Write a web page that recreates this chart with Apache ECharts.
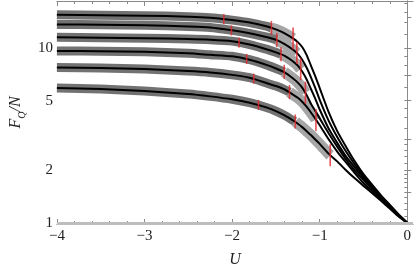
<!DOCTYPE html>
<html><head><meta charset="utf-8">
<script src="https://cdn.jsdelivr.net/npm/echarts@6/dist/echarts.min.js"></script>
<style>html,body{margin:0;padding:0;background:#fff}#c{width:415px;height:273px}</style>
</head><body><div id="c"></div>
<script>
// U grid shared by all curves
const U = [-4, -3.5, -3, -2.5, -2.25, -2, -1.8, -1.6, -1.5, -1.4, -1.3, -1.25, -1.2, -1.15, -1.1, -1.05, -1.0, -0.9, -0.8, -0.7, -0.6, -0.5, -0.4, -0.3, -0.2, -0.1, 0];
// F_Q/N curves (top to bottom)
const fq16 = [15.48, 15.39, 15.29, 15.10, 14.90, 14.43, 13.97, 13.27, 12.77, 12.13, 11.30, 10.80, 10.13, 9.14, 7.93, 6.89, 5.90, 4.33, 3.35, 2.73, 2.25, 1.90, 1.65, 1.44, 1.27, 1.12, 1.00];
const fq14 = [13.62, 13.57, 13.48, 13.27, 13.10, 12.61, 12.13, 11.52, 11.15, 10.53, 9.74, 9.26, 8.57, 7.73, 6.80, 5.90, 5.06, 3.86, 3.10, 2.56, 2.16, 1.85, 1.62, 1.42, 1.26, 1.12, 1.00];
const fq12 = [11.52, 11.45, 11.37, 11.25, 11.15, 10.94, 10.46, 9.81, 9.44, 9.02, 8.35, 7.93, 7.34, 6.63, 5.83, 5.12, 4.45, 3.48, 2.87, 2.40, 2.08, 1.81, 1.59, 1.41, 1.25, 1.11, 1.00];
const fq10 = [9.62, 9.58, 9.50, 9.32, 9.14, 8.97, 8.57, 7.98, 7.63, 7.25, 6.67, 6.34, 5.94, 5.39, 4.80, 4.36, 3.96, 3.27, 2.73, 2.31, 2.00, 1.76, 1.56, 1.39, 1.24, 1.11, 1.00];
const fq8  = [7.73, 7.68, 7.59, 7.39, 7.25, 7.02, 6.76, 6.29, 6.06, 5.79, 5.39, 5.19, 4.93, 4.62, 4.28, 3.94, 3.62, 3.02, 2.56, 2.22, 1.93, 1.69, 1.52, 1.36, 1.22, 1.10, 1.00];
const fq6  = [5.90, 5.83, 5.68, 5.46, 5.29, 5.09, 4.87, 4.56, 4.36, 4.12, 3.84, 3.69, 3.53, 3.35, 3.18, 3.00, 2.83, 2.49, 2.25, 2.00, 1.80, 1.63, 1.48, 1.34, 1.21, 1.09, 1.00];
// red markers [U, F]: first, dark-band end, light-band end
const ticks16 = [[-2.095, 14.6], [-1.551, 13.02], [-1.304, 11.33]];
const ticks14 = [[-2.008, 12.6], [-1.489, 11.1], [-1.261, 9.36]];
const ticks12 = [[-1.921, 10.75], [-1.442, 9.2], [-1.217, 7.55]];
const ticks10 = [[-1.834, 8.66], [-1.405, 7.3], [-1.163, 5.55]];
const ticks8  = [[-1.753, 6.68], [-1.345, 5.6], [-1.043, 3.88]];
const ticks6  = [[-1.699, 4.73], [-1.279, 3.8], [-0.880, 2.44]];
// axis ticks / labels
const xTickLabels = [-4, -3, -2, -1, 0];
const yTickLabels = [1, 2, 5, 10];
const yLeftTicks = [1, 1.5, 2, 3, 5, 7, 10, 15];
const yRightTicks = [1.1, 1.2, 1.3, 1.4, 1.5, 1.6, 1.7, 1.8, 1.9, 2, 2.2, 2.4, 2.6, 2.8, 3, 3.5, 4, 4.5, 5, 6, 7, 8, 9, 10, 12, 14, 16, 18];
const refLevel = 1;

const curves = [
  {f: fq16, t: ticks16}, {f: fq14, t: ticks14}, {f: fq12, t: ticks12},
  {f: fq10, t: ticks10}, {f: fq8, t: ticks8}, {f: fq6, t: ticks6}
];
const pts = f => U.map((u, i) => [u, f[i]]);
const FONT = 'Liberation Serif';
const series = [];
series.push({type: 'line', data: [], z: 0, silent: true,
  markLine: {silent: true, symbol: 'none', label: {show: false}, animation: false,
    lineStyle: {color: '#bdbdbd', width: 3, type: 'solid'}, data: [{yAxis: refLevel}]}});
curves.forEach(c => {
  const p = pts(c.f), t2 = c.t[1], t3 = c.t[2];
  const dark = p.filter(q => q[0] < t2[0]).concat([t2]);
  const light = [t2].concat(p.filter(q => q[0] > t2[0] && q[0] < t3[0]), [t3]);
  series.push({type: 'line', data: dark, showSymbol: false, smooth: 0.2, silent: true, z: 1,
    lineStyle: {color: '#727272', width: 9, cap: 'butt'}});
  series.push({type: 'line', data: light, showSymbol: false, smooth: 0.2, silent: true, z: 1,
    lineStyle: {color: '#a6a6a6', width: 11, cap: 'butt'}});
});
curves.forEach(c => {
  series.push({type: 'line', data: pts(c.f), showSymbol: false, smooth: 0.2, silent: true, z: 3,
    lineStyle: {color: '#000', width: 2}});
});
const tickH = [10, 14, 22];
curves.forEach(c => {
  series.push({type: 'scatter', data: c.t, symbol: 'rect', silent: true, z: 4,
    symbolSize: (v, p) => [1.6, tickH[p.dataIndex]], itemStyle: {color: '#e3262b'}});
});

const fmtX = v => (v < 0 ? '\u2212' + Math.abs(v) : String(v));
const axisCommon = {axisLine: {show: true, lineStyle: {color: '#8a8a8a', width: 1}}, splitLine: {show: false}};
const chart = echarts.init(document.getElementById('c'), null, {renderer: 'canvas'});
chart.setOption({
  animation: false,
  grid: {left: 39, right: 2, top: 1, bottom: 44},
  xAxis: [
    Object.assign({type: 'value', position: 'bottom', min: -4, max: 0.065, interval: 1,
      name: 'U', nameLocation: 'middle', nameGap: 28,
      nameTextStyle: {fontFamily: FONT, fontStyle: 'italic', fontSize: 16, color: '#222'},
      axisTick: {show: true, inside: true, length: 5, lineStyle: {color: '#8a8a8a'}, customValues: xTickLabels},
      minorTick: {show: true, splitNumber: 5, length: 3, lineStyle: {color: '#8a8a8a'}},
      axisLabel: {customValues: xTickLabels, formatter: fmtX, fontFamily: FONT, fontSize: 15, color: '#222', margin: 5}
    }, axisCommon),
    Object.assign({type: 'value', position: 'top', min: -4, max: 0.065, interval: 1,
      axisTick: {show: true, inside: true, length: 5, lineStyle: {color: '#8a8a8a'}, customValues: xTickLabels},
      minorTick: {show: true, splitNumber: 5, length: 3, lineStyle: {color: '#8a8a8a'}},
      axisLabel: {show: false}
    }, axisCommon)
  ],
  yAxis: [
    Object.assign({type: 'log', position: 'left', min: 0.987, max: 18.55,
      name: '{i|F}{s|Q}{i|/N}', nameLocation: 'middle', nameGap: 22, nameRotate: 90,
      nameTextStyle: {rich: {
        i: {fontFamily: FONT, fontStyle: 'italic', fontSize: 16, color: '#222'},
        s: {fontFamily: FONT, fontStyle: 'italic', fontSize: 10, color: '#222', lineHeight: 22, verticalAlign: 'bottom'}
      }},
      axisTick: {show: true, inside: true, length: 4, lineStyle: {color: '#8a8a8a'}, customValues: yLeftTicks},
      axisLabel: {customValues: yTickLabels, fontFamily: FONT, fontSize: 15, color: '#222', margin: 4}
    }, axisCommon),
    Object.assign({type: 'log', position: 'right', min: 0.987, max: 18.55,
      axisTick: {show: true, inside: true, length: 3, lineStyle: {color: '#8a8a8a'}, customValues: yRightTicks},
      axisLabel: {show: false}
    }, axisCommon)
  ],
  series: series
});
</script></body></html>
